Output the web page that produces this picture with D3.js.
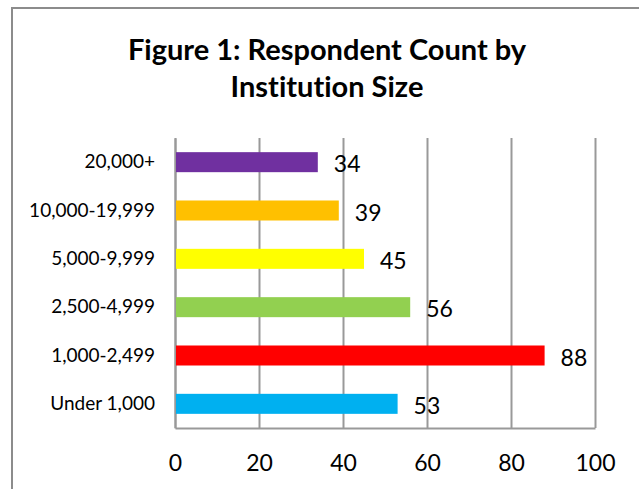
<!DOCTYPE html>
<html>
<head>
<meta charset="utf-8">
<script src="https://cdn.jsdelivr.net/npm/d3@7"></script>
<style>
  body { margin: 0; background: #fff; }
  svg { display: block; font-family: Lato, "Liberation Sans", sans-serif; font-variant-ligatures: none; }
</style>
</head>
<body>
<div id="chart"></div>
<script>
const categories = ['20,000+', '10,000-19,999', '5,000-9,999', '2,500-4,999', '1,000-2,499', 'Under 1,000'];
const counts = [34, 39, 45, 56, 88, 53];
const barColors = ['#7030A0', '#FFC000', '#FFFF00', '#92D050', '#FF0000', '#00B0F0'];
const xTicks = [0, 20, 40, 60, 80, 100];
const titleLines = ['Figure 1: Respondent Count by', 'Institution Size'];

const width = 639, height = 489;
const plotLeft = 175, plotRight = 595, plotTop = 138, plotBottom = 428;
const gridColor = '#999';

const svg = d3.select('#chart')
    .append('svg')
    .attr('width', width)
    .attr('height', height);

/* outer frame, runs off the right and bottom edge */
svg.append('rect')
    .attr('x', 12)
    .attr('y', 8)
    .attr('width', 650)
    .attr('height', 520)
    .attr('fill', 'none')
    .attr('stroke', '#8c8c8c')
    .attr('stroke-width', 2);

/* title */
svg.append('text')
    .attr('text-anchor', 'middle')
    .attr('font-weight', 'bold')
    .attr('font-size', 29)
    .selectAll('tspan')
    .data(titleLines)
    .join('tspan')
    .attr('x', 327)
    .attr('y', (d, i) => 60 + i * 37)
    .text(d => d);

const xScale = d3.scaleLinear()
    .domain([0, 100])
    .range([plotLeft, plotRight]);

const yScale = d3.scaleBand()
    .domain(categories)
    .range([plotTop, plotBottom])
    .paddingInner(0.586)
    .paddingOuter(0.293);

/* vertical gridlines */
svg.append('g')
    .attr('transform', `translate(0,${plotBottom})`)
    .call(d3.axisBottom(xScale).tickValues(xTicks).tickSize(-(plotBottom - plotTop)).tickFormat(''))
    .call(g => g.select('.domain').remove())
    .call(g => g.selectAll('line').attr('stroke', gridColor).attr('stroke-width', 2));

/* x axis labels + baseline */
svg.append('g')
    .attr('transform', `translate(0,${plotBottom})`)
    .call(d3.axisBottom(xScale).tickValues(xTicks).tickSize(0).tickPadding(27))
    .call(g => g.select('.domain').attr('stroke', gridColor).attr('stroke-width', 2))
    .call(g => g.selectAll('text').attr('font-size', 23).attr('fill', '#000').attr('font-family', 'Lato'));

/* y axis */
svg.append('g')
    .attr('transform', `translate(${plotLeft},0)`)
    .call(d3.axisLeft(yScale).tickSize(0).tickPadding(20))
    .call(g => g.select('.domain').attr('stroke', gridColor).attr('stroke-width', 2))
    .call(g => g.selectAll('text').attr('font-size', 19).attr('fill', '#000').attr('font-family', 'Lato'));

/* bars */
svg.append('g')
    .selectAll('rect')
    .data(counts)
    .join('rect')
    .attr('x', xScale(0) + 1)
    .attr('y', (d, i) => yScale(categories[i]))
    .attr('width', d => xScale(d) - xScale(0) - 1)
    .attr('height', yScale.bandwidth())
    .attr('fill', (d, i) => barColors[i]);

/* value labels */
svg.append('g')
    .selectAll('text')
    .data(counts)
    .join('text')
    .attr('x', d => xScale(d) + 16)
    .attr('y', (d, i) => yScale(categories[i]) + yScale.bandwidth() / 2 + 2)
    .attr('dy', '0.36em')
    .attr('font-size', 23)
    .text(d => d);
</script>
</body>
</html>
